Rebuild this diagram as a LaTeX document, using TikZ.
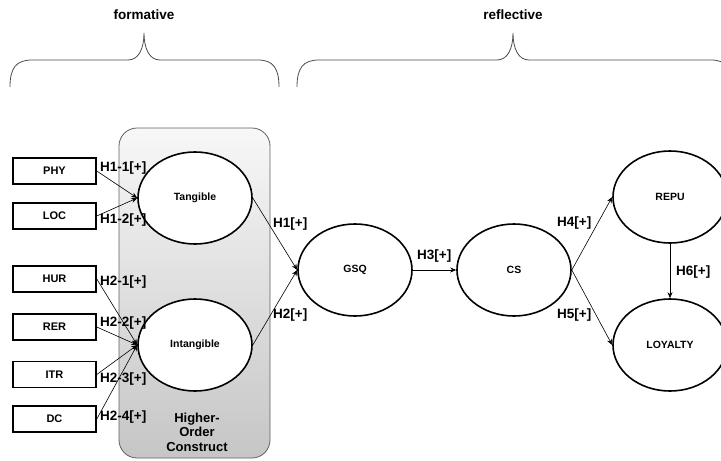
\documentclass[tikz,border=0pt]{standalone}
\usepackage{fontspec}
\setmainfont{Liberation Sans}
\usetikzlibrary{shapes.geometric,arrows.meta}
\begin{document}
\begin{tikzpicture}[x=1pt,y=-1pt,
  lat/.style={ellipse,draw,line width=1.6pt,minimum width=114pt,minimum height=92pt,inner sep=0pt,fill=white,font=\fontsize{10.5}{12}\selectfont\bfseries},
  ind/.style={rectangle,draw,line width=1.6pt,minimum width=83pt,minimum height=26pt,inner sep=0pt,fill=white,font=\fontsize{11}{13}\selectfont\bfseries},
  hyp/.style={anchor=west,inner sep=0pt,font=\fontsize{13.5}{15}\selectfont\bfseries},
  ttl/.style={inner sep=0pt,font=\fontsize{13.5}{15}\selectfont\bfseries},
  conn/.style={line width=0.6pt,-{Stealth[length=6pt,width=5pt]}},
  bracepath/.style={line width=0.8pt,draw=black!70},
]
\useasboundingbox (0,0) rectangle (721,461);

% titles and braces
\node[ttl] (tform) at (144,15) {formative};
\node[ttl] (trefl) at (513,15) {reflective};
\draw[bracepath] (10,87) .. controls (10,68) and (16,60) .. (32,60) -- (128,60)
  .. controls (139,60) and (144,48) .. (144,33)
  .. controls (144,48) and (149,60) .. (160,60) -- (258,60)
  .. controls (273,60) and (279,68) .. (279,87);
\draw[bracepath] (297,87) .. controls (297,68) and (303,60) .. (319,60) -- (497,60)
  .. controls (508,60) and (513,48) .. (513,33)
  .. controls (513,48) and (518,60) .. (529,60) -- (711,60)
  .. controls (726,60) and (732,68) .. (732,87);

% higher-order construct box
\shade[top color=gray!6, bottom color=gray!45, rounded corners=18pt, draw=gray!75!black, line width=0.8pt]
  (119,128) rectangle (270,458);
\node[ttl, align=center, font=\fontsize{13}{14.5}\selectfont\bfseries] (hoc) at (197,432) {Higher-\\Order\\Construct};

% indicators
\node[ind] (phy) at (54.5,171) {PHY};
\node[ind] (loc) at (54.5,216) {LOC};
\node[ind] (hur) at (54.5,279) {HUR};
\node[ind] (rer) at (54.5,327) {RER};
\node[ind] (itr) at (54.5,374.5) {ITR};
\node[ind] (dc)  at (54.5,419) {DC};

% latent constructs
\node[lat] (tan) at (195,198) {Tangible};
\node[lat] (intan) at (195,345) {Intangible};
\node[lat] (gsq) at (355,270) {GSQ};
\node[lat] (cs) at (514,270) {CS};
\node[lat] (repu) at (670,197) {REPU};
\node[lat] (loy) at (670,345) {LOYALTY};

% connectors
\draw[conn] (phy.east) -- (tan.west);
\draw[conn] (loc.east) -- (tan.west);
\draw[conn] (hur.east) -- (intan.west);
\draw[conn] (rer.east) -- (intan.west);
\draw[conn] (itr.east) -- (intan.west);
\draw[conn] (dc.east) -- (intan.west);
\draw[conn] (tan.east) -- (gsq.west);
\draw[conn] (intan.east) -- (gsq.west);
\draw[conn] (gsq.east) -- (cs.west);
\draw[conn] (cs.east) -- (repu.west);
\draw[conn] (cs.east) -- (loy.west);
\draw[conn] (repu.south) -- (loy.north);

% hypothesis labels
\node[hyp] (h11) at (100,168) {H1-1[+]};
\node[hyp] (h12) at (100,220) {H1-2[+]};
\node[hyp] (h21) at (100,282) {H2-1[+]};
\node[hyp] (h22) at (100,323) {H2-2[+]};
\node[hyp] (h23) at (100,379) {H2-3[+]};
\node[hyp] (h24) at (100,417) {H2-4[+]};
\node[hyp] (h1) at (273,224) {H1[+]};
\node[hyp] (h2) at (273,315) {H2[+]};
\node[hyp] (h3) at (417,256) {H3[+]};
\node[hyp] (h4) at (557,223) {H4[+]};
\node[hyp] (h5) at (557,315) {H5[+]};
\node[hyp] (h6) at (676,272) {H6[+]};
\end{tikzpicture}
\end{document}
